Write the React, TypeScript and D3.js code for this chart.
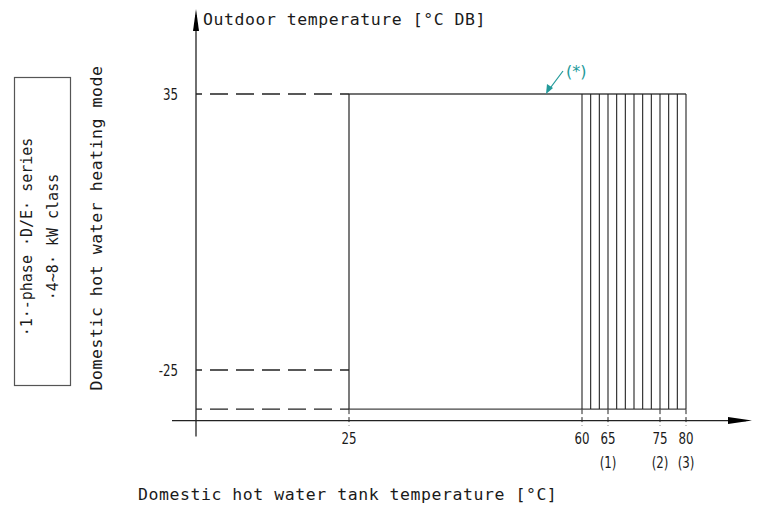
import React from "react";
import * as d3 from "d3";

// ---- data ----
const xTickValues = [25, 60, 65, 75, 80];
const xTickLabels = ["25", "60", "65", "75", "80"];
const xNoteValues = [65, 75, 80];
const xNoteLabels = ["(1)", "(2)", "(3)"];
const yTickValues = [35, -25];
const yTickLabels = ["35", "-25"];
const yBottomValue = -33.5; // unlabeled lower limit
const regionXStart = 25;
const regionXEnd = 80;
const regionYTop = 35;
const hatchStart = 60;
const hatchEnd = 80;
const hatchCount = 12; // intervals
const dashedYValues = [35, -25, yBottomValue];
const xTitle = "Domestic hot water tank temperature [°C]";
const yTitle = "Outdoor temperature [°C DB]";
const modeLabel = "Domestic hot water heating mode";
const boxLines = ["·1·-phase ·D/E· series", "·4~8· kW class"];
const noteLabel = "(*)";

const W = 757;
const H = 517;
const MONO = "'DejaVu Sans Mono', monospace";
const NARROW = "'DejaVu Sans Condensed', 'DejaVu Sans', sans-serif";
const INK = "#222";
const TEXT = "#1a1a1a";
const TEAL = "#239a9a";

export default function App() {
  // schematic (piecewise) scales
  const x = d3.scaleLinear().domain([0, 25, 60, 80]).range([196, 349, 582, 686]);
  const y = d3.scaleLinear().domain([-25, 35]).range([370, 94]);
  const axisY = y(-36);
  const x0 = x(0);

  const hatch = d3.range(hatchCount + 1).map(
    (i) => hatchStart + ((hatchEnd - hatchStart) * i) / hatchCount
  );

  const arrowTipX = 752;
  const arrowTipY = 9;
  const sx = 0.82;

  return (
    <svg
      width={W}
      height={H}
      style={{ position: "absolute", left: 0, top: 0, background: "#fff" }}
    >
      <rect x={0} y={0} width={W} height={H} fill="#fff" />

      {/* left box */}
      <rect x={14.5} y={77.5} width={56} height={308} fill="none" stroke="#555" strokeWidth={1.2} />
      {boxLines.map((t, i) => (
        <text
          key={t}
          transform={`translate(${i === 0 ? 32 : 58},237) rotate(-90)`}
          textAnchor="middle"
          fontFamily={MONO}
          fontSize={15}
          fill={TEXT}
        >
          {t}
        </text>
      ))}
      <text
        transform={`translate(102,228) rotate(-90)`}
        textAnchor="middle"
        fontFamily={MONO}
        fontSize={16.5}
        letterSpacing={0.55}
        fill={TEXT}
      >
        {modeLabel}
      </text>

      {/* dashed horizontal guide lines */}
      {dashedYValues.map((v) => (
        <line
          key={v}
          x1={x0}
          x2={x(regionXStart)}
          y1={y(v)}
          y2={y(v)}
          stroke={INK}
          strokeWidth={1.3}
          strokeDasharray="18,8"
          strokeDashoffset={12}
        />
      ))}

      {/* dashed vertical ticks between region bottom and axis */}
      {xTickValues.map((v) => (
        <line
          key={"vt" + v}
          x1={x(v)}
          x2={x(v)}
          y1={y(yBottomValue)}
          y2={axisY + 5}
          stroke={INK}
          strokeWidth={1}
          strokeDasharray="5,3"
        />
      ))}

      {/* operating region */}
      <line x1={x(regionXStart)} x2={x(regionXEnd)} y1={y(regionYTop)} y2={y(regionYTop)} stroke="#444" strokeWidth={1.4} />
      <line x1={x(regionXStart)} x2={x(regionXEnd)} y1={y(yBottomValue)} y2={y(yBottomValue)} stroke="#444" strokeWidth={1.2} />
      <line x1={x(regionXStart)} x2={x(regionXStart)} y1={y(regionYTop)} y2={y(yBottomValue)} stroke={INK} strokeWidth={1.2} />
      {hatch.map((v) => (
        <line
          key={"h" + v}
          x1={x(v)}
          x2={x(v)}
          y1={y(regionYTop)}
          y2={y(yBottomValue)}
          stroke={INK}
          strokeWidth={1.1}
        />
      ))}

      {/* axes */}
      <line x1={x0 - 24} x2={arrowTipX - 6} y1={axisY} y2={axisY} stroke={INK} strokeWidth={1.3} />
      <path
        d={`M${arrowTipX},${axisY} L${arrowTipX - 24},${axisY - 3.5} L${arrowTipX - 24},${axisY + 3.5} Z`}
        fill="#000"
      />
      <line x1={x0} x2={x0} y1={axisY + 16} y2={arrowTipY + 6} stroke={INK} strokeWidth={1.3} />
      <path
        d={`M${x0},${arrowTipY} L${x0 - 3},${arrowTipY + 22} L${x0 + 3},${arrowTipY + 22} Z`}
        fill="#000"
      />

      {/* tick labels */}
      {xTickValues.map((v, i) => (
        <text
          key={"xl" + v}
          transform={`translate(${x(v)},${axisY + 23}) scale(${sx},1)`}
          textAnchor="middle"
          fontFamily={NARROW}
          fontSize={16}
          fill={TEXT}
        >
          {xTickLabels[i]}
        </text>
      ))}
      {xNoteValues.map((v, i) => (
        <text
          key={"xn" + v}
          transform={`translate(${x(v)},${axisY + 47}) scale(${sx},1)`}
          textAnchor="middle"
          fontFamily={NARROW}
          fontSize={16}
          fill={TEXT}
        >
          {xNoteLabels[i]}
        </text>
      ))}
      {yTickValues.map((v, i) => (
        <text
          key={"yl" + v}
          transform={`translate(178,${y(v)}) scale(${sx},1)`}
          dy="0.35em"
          textAnchor="end"
          fontFamily={NARROW}
          fontSize={16}
          fill={TEXT}
        >
          {yTickLabels[i]}
        </text>
      ))}

      {/* titles */}
      <text x={203} y={25} fontFamily={MONO} fontSize={16.5} letterSpacing={0.55} fill={TEXT}>
        {yTitle}
      </text>
      <text x={138} y={500} fontFamily={MONO} fontSize={16.5} letterSpacing={0.55} fill={TEXT}>
        {xTitle}
      </text>

      {/* (*) annotation */}
      <line x1={563} y1={71} x2={548} y2={91} stroke={TEAL} strokeWidth={1.2} />
      <path d="M546,94 L547,84 L553,88 Z" fill={TEAL} />
      <text x={566} y={77} fontFamily="'DejaVu Sans', sans-serif" fontSize={16} fill={TEAL}>
        {noteLabel}
      </text>
    </svg>
  );
}
